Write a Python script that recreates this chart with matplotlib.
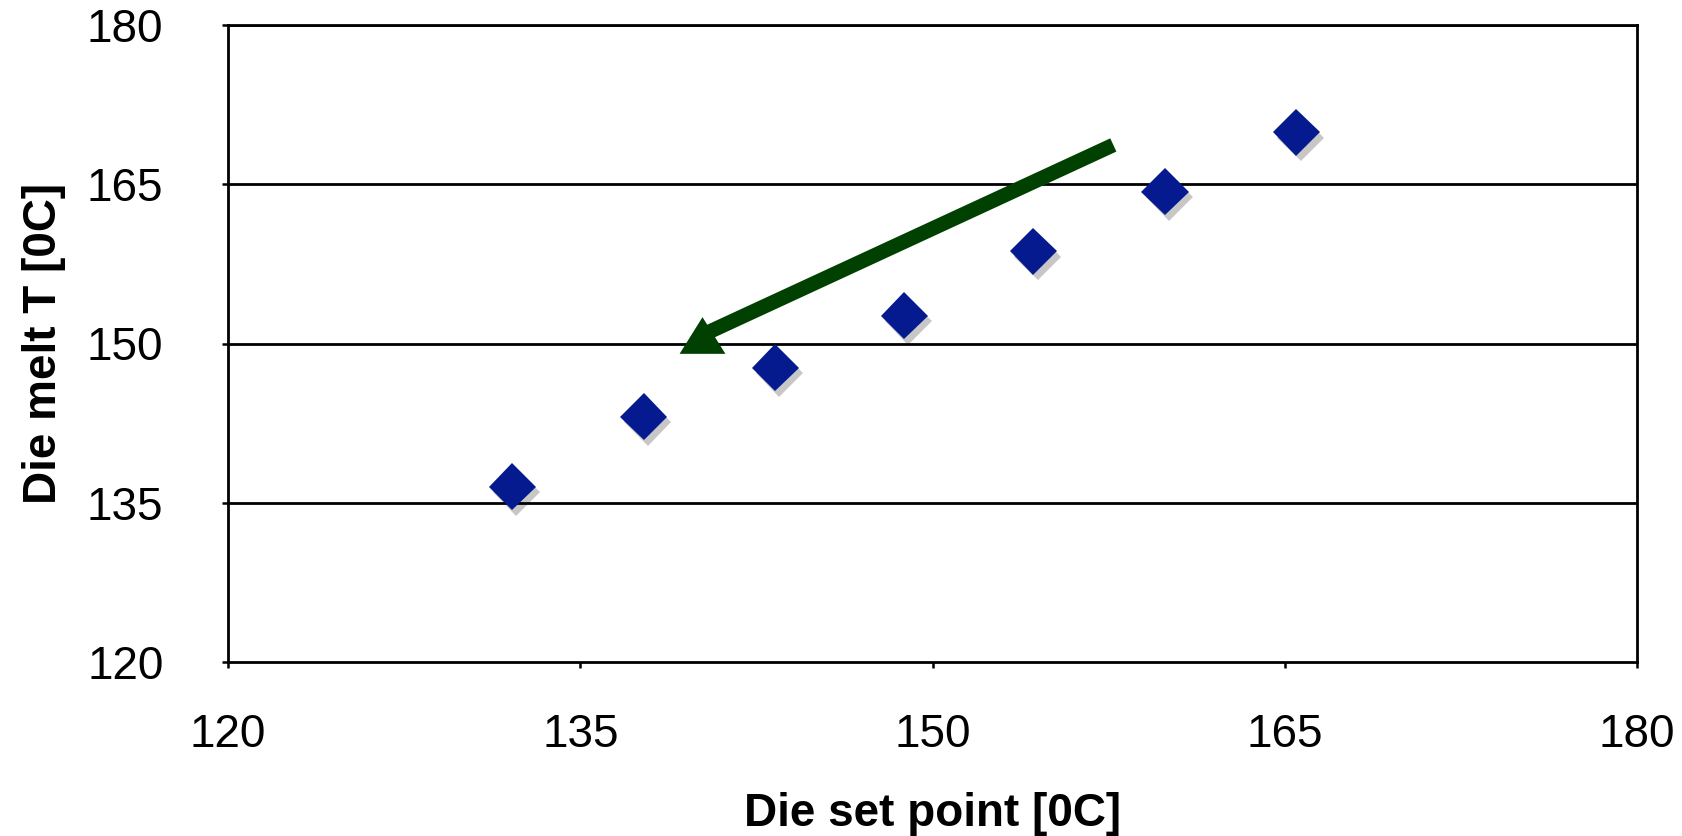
import matplotlib
matplotlib.use("Agg")
import matplotlib.pyplot as plt
import matplotlib.patheffects as pe

# valeurs
set_point = [132.1, 137.7, 143.3, 148.8, 154.3, 159.9, 165.5]
melt_T = [136.5, 143.1, 147.7, 152.6, 158.7, 164.3, 169.9]

x_ticks = [120, 135, 150, 165, 180]
y_ticks = [120, 135, 150, 165, 180]

# fleche (debut -> pointe)
arrow_x = [157.7, 140.2]
arrow_y = [168.7, 150.8]

plt.rcParams["font.family"] = ["Liberation Sans", "DejaVu Sans"]

fig = plt.figure(figsize=(16.82, 8.36), dpi=100)
ax = fig.add_axes([228 / 1682, 1 - 662 / 836, 1409 / 1682, 637 / 836])

ax.set_xlim(120, 180)
ax.set_ylim(120, 180)
ax.set_xticks(x_ticks)
ax.set_yticks(y_ticks)

for yv in y_ticks[1:]:
    ax.axhline(yv, color="black", lw=2.0, zorder=1)

for s in ax.spines.values():
    s.set_linewidth(2.0)
    s.set_color("black")

ax.tick_params(axis="both", direction="out", length=4.5, width=1.8,
               labelsize=33, colors="black")
ax.tick_params(axis="y", pad=42)
ax.tick_params(axis="x", pad=32)

ax.plot(set_point, melt_T, linestyle="none", marker="D", markersize=24,
        color="#061A8F", markeredgewidth=0, zorder=3,
        path_effects=[pe.SimplePatchShadow(offset=(3, -4), shadow_rgbFace="black", alpha=0.22),
                      pe.Normal()])

# fleche verte : trait + tete triangulaire
ax.plot(arrow_x, arrow_y, color="#004000", lw=10.5, solid_capstyle="butt", zorder=4)
tri = [(0, 0.8), (-1, -0.8), (1, -0.8)]
ax.plot(arrow_x[1], arrow_y[1], marker=tri, markersize=33, color="#004000",
        markeredgewidth=0, zorder=5)

ax.set_xlabel("Die set point [0C]", fontsize=33, fontweight="bold")
ax.set_ylabel("Die melt T [0C]", fontsize=33, fontweight="bold")
ax.xaxis.set_label_coords(0.5, -0.204)
ax.yaxis.set_label_coords(-0.115, 0.5)

fig.savefig("out.png", dpi=100)
